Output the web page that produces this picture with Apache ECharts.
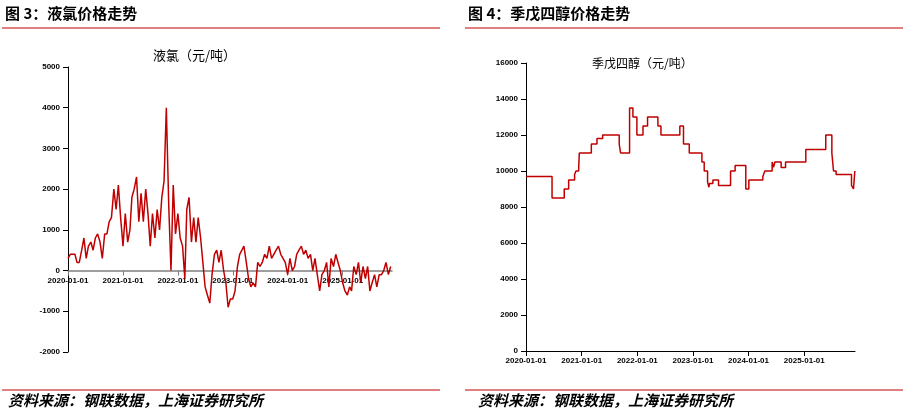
<!DOCTYPE html>
<html lang="zh">
<head>
<meta charset="UTF-8">
<script src="https://cdn.jsdelivr.net/npm/echarts@6/dist/echarts.min.js"></script>
<style>
  html, body { margin: 0; padding: 0; background: #fff; }
  #main { width: 905px; height: 417px; }
</style>
</head>
<body>
<div id="main"></div>
<script>
// 液氯: half-monthly readings from 2020-01-01
var clStartYear = 2020;
var clValues = [300, 400, 400, 400, 200, 200, 500, 800, 300, 600, 700, 500, 800, 900, 700, 300,
  900, 900, 1200, 1300, 2000, 1500, 2100, 1300, 600, 1400, 700, 1000, 1800, 2000, 2300, 1200,
  1900, 1200, 2000, 1400, 600, 1400, 800, 1500, 1000, 1800, 2200, 4000, 1600, 0, 2100, 900,
  1400, 800, 600, -200, 1500, 1800, 700, 1300, 700, 1300, 800, 200, -400, -600, -800, -100,
  400, 500, 200, 500, 0, -300, -900, -700, -700, -500, 100, 400, 400, 600, 200, -200,
  -400, -300, -400, 200, 100, 200, 400, 300, 600, 300, 400, 500, 600, 400, 300, 200,
  -100, 300, 0, 100, 400, 500, 600, 400, 500, 300, 400, 0, 300, -100, -500, -100,
  0, 200, -400, 300, 100, 400, 200, 0, -300, -500, -600, -400, -500, 100, -100, 200,
  -300, 100, -200, 100, -500, -300, -100, -400, -100, -100, 0, 200, -100, 100];

// 季戊四醇: price steps
var pentaDates = ['2020-01-01', '2020-06-20', '2020-09-08', '2020-10-07', '2020-11-15', '2020-11-24',
  '2020-12-12', '2020-12-16', '2021-03-05', '2021-04-11', '2021-05-18', '2021-09-04', '2021-09-13',
  '2021-11-11', '2021-12-03', '2021-12-29', '2022-02-07', '2022-03-09', '2022-05-16', '2022-06-05',
  '2022-10-07', '2022-10-31', '2022-12-08', '2023-03-01', '2023-03-16', '2023-04-07', '2023-04-16',
  '2023-04-20', '2023-05-12', '2023-06-18', '2023-09-05', '2023-10-05', '2023-12-14', '2024-01-03',
  '2024-04-04', '2024-04-17', '2024-06-04', '2024-06-13', '2024-06-22', '2024-08-02', '2024-08-31',
  '2025-01-11', '2025-05-22', '2025-07-01', '2025-07-12', '2025-07-29', '2025-11-07', '2025-11-20',
  '2025-11-29'];
var pentaValues = [9700, 8500, 9000, 9500, 9800, 10000,
  10200, 11000, 11500, 11800, 12000, 11500, 11000,
  13500, 13000, 12000, 12500, 13000, 12500, 12000,
  12500, 11500, 11000, 10500, 10000, 9400, 9100,
  9300, 9500, 9200, 10000, 10300, 9000, 9500,
  9700, 10000, 10500, 10200, 10500, 10200, 10500,
  11200, 12000, 11000, 10000, 9800, 9200, 9000,
  10000];

var clData = clValues.map(function (v, i) {
  var mm = clStartYear * 12 + Math.floor(i / 2);
  var day = (i % 2 === 0) ? '01' : '16';
  return [Math.floor(mm / 12) + '-' + String(mm % 12 + 1).padStart(2, '0') + '-' + day, v];
});
var pentaData = pentaDates.map(function (d, i) { return [d, pentaValues[i]]; });

var red = '#c00000';
var lab = { fontSize: 8, fontWeight: 'bold', color: '#000', fontFamily: 'Arial' };
function xAxis(gi, max, offset) {
  return {
    type: 'time', gridIndex: gi, min: '2020-01-01', max: max, offset: offset,
    interval: 365.25 * 24 * 3600 * 1000,
    axisLine: { onZero: false, lineStyle: { color: gi === 0 ? '#7f7f7f' : '#000', width: gi === 0 ? 1.5 : 1 } },
    axisTick: { show: true, lineStyle: { color: gi === 0 ? '#7f7f7f' : '#000' } },
    axisLabel: Object.assign({ formatter: '{yyyy}-{MM}-{dd}', margin: 6, hideOverlap: false }, lab),
    splitLine: { show: false }
  };
}
function yAxis(gi, min, max, step) {
  return {
    type: 'value', gridIndex: gi, min: min, max: max, interval: step,
    axisLine: { show: true, lineStyle: { color: '#000' } },
    axisTick: { show: true, lineStyle: { color: '#000' } },
    axisLabel: Object.assign({ margin: 8, formatter: function (v) { return String(v); } }, lab),
    splitLine: { show: false }
  };
}
var chart = echarts.init(document.getElementById('main'));
chart.setOption({
  animation: false,
  grid: [
    { left: 68, top: 67, width: 324, height: 285 },
    { left: 526, top: 63, width: 329, height: 288 }
  ],
  xAxis: [xAxis(0, '2025-11-25', -285 * 2 / 7), xAxis(1, '2025-11-30', 0)],
  yAxis: [yAxis(0, -2000, 5000, 1000), yAxis(1, 0, 16000, 2000)],
  series: [
    { type: 'line', xAxisIndex: 0, yAxisIndex: 0, data: clData, showSymbol: false,
      lineStyle: { color: red, width: 1.5 } },
    { type: 'line', xAxisIndex: 1, yAxisIndex: 1, data: pentaData, showSymbol: false, step: 'end',
      lineStyle: { color: red, width: 1.5 } }
  ],
  graphic: [
    { type: 'text', left: 5, top: 6, style: { text: '图 3：液氯价格走势', font: 'bold 15px "Noto Sans CJK SC"', fill: '#000' } },
    { type: 'text', left: 468, top: 6, style: { text: '图 4：季戊四醇价格走势', font: 'bold 15px "Noto Sans CJK SC"', fill: '#000' } },
    { type: 'line', shape: { x1: 2, y1: 28, x2: 440, y2: 28 }, style: { stroke: red, lineWidth: 1 } },
    { type: 'line', shape: { x1: 465, y1: 28, x2: 903, y2: 28 }, style: { stroke: red, lineWidth: 1 } },
    { type: 'line', shape: { x1: 2, y1: 390, x2: 440, y2: 390 }, style: { stroke: red, lineWidth: 1 } },
    { type: 'line', shape: { x1: 465, y1: 390, x2: 903, y2: 390 }, style: { stroke: red, lineWidth: 1 } },
    { type: 'text', left: 8, top: 393, style: { text: '资料来源：钢联数据，上海证券研究所', font: 'italic bold 15px "Noto Sans CJK SC"', fill: '#000' } },
    { type: 'text', left: 478, top: 393, style: { text: '资料来源：钢联数据，上海证券研究所', font: 'italic bold 15px "Noto Sans CJK SC"', fill: '#000' } },
    { type: 'text', left: 153, top: 49, style: { text: '液氯（元/吨）', font: '13px "Noto Sans CJK SC"', fill: '#000' } },
    { type: 'text', left: 592, top: 57, style: { text: '季戊四醇（元/吨）', font: '12px "Noto Sans CJK SC"', fill: '#000' } }
  ]
});
</script>
</body>
</html>
